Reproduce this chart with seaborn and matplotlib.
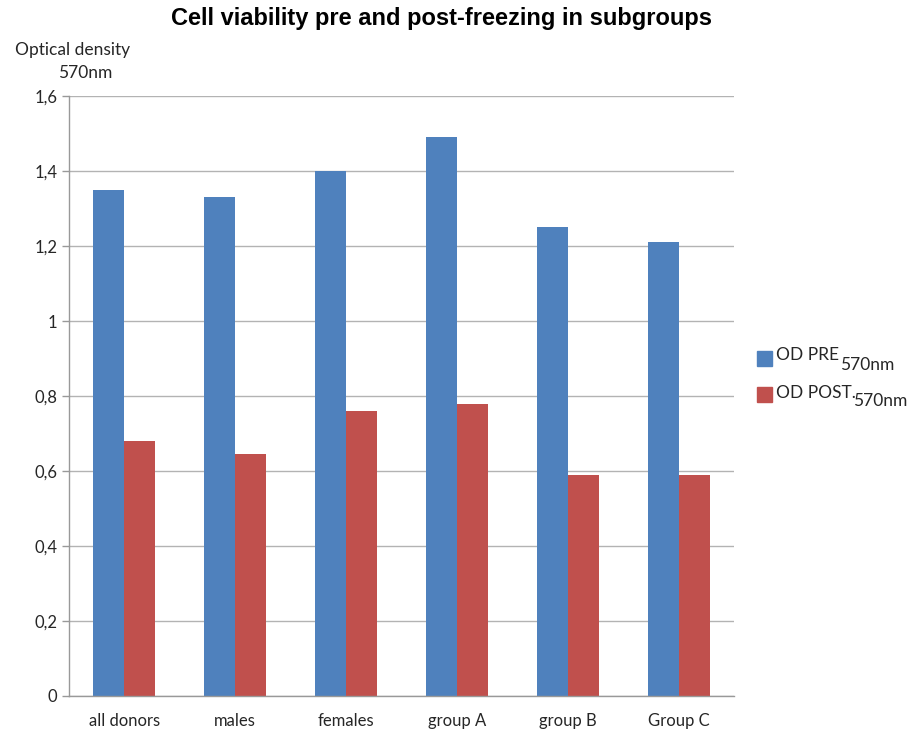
import numpy as np
import pandas as pd
import matplotlib
matplotlib.use("Agg")
import matplotlib.pyplot as plt
import seaborn as sns

groups = ["all donors", "males", "females", "group A", "group B", "Group C"]
od_pre = [1.35, 1.33, 1.40, 1.49, 1.25, 1.21]
od_post = [0.68, 0.645, 0.76, 0.78, 0.59, 0.59]
yticks = [0, 0.2, 0.4, 0.6, 0.8, 1.0, 1.2, 1.4, 1.6]
ytick_labels = ["0", "0,2", "0,4", "0,6", "0,8", "1", "1,2", "1,4", "1,6"]

df = pd.DataFrame({
    "group": groups * 2,
    "od": od_pre + od_post,
    "series": ["pre"] * len(groups) + ["post"] * len(groups),
})

sns.set_style("white")
plt.rcParams["font.family"] = ["Lato", "DejaVu Sans"]

fig = plt.figure(figsize=(9.17, 7.33), dpi=100)
ax = fig.add_axes([0.0752, 0.0505, 0.7252, 0.8185])

sns.barplot(data=df, x="group", y="od", hue="series", order=groups,
            hue_order=["pre", "post"], palette=["#4f81bd", "#c0504d"],
            width=0.56, gap=0, saturation=1, errorbar=None, ax=ax,
            legend=False, linewidth=0)

ax.set_xlim(-0.5, len(groups) - 0.5)
ax.set_ylim(0, 1.6)
ax.set_yticks(yticks)
ax.set_yticklabels(ytick_labels, fontsize=12)
ax.yaxis.grid(True, color="#b3b3b3", linewidth=1.0)
ax.set_axisbelow(True)
ax.set_xlabel("")
ax.set_ylabel("")
ax.tick_params(axis="x", which="major", length=0, labelsize=12, pad=12)
ax.set_xticks(np.arange(-0.5, len(groups)), minor=True)
ax.tick_params(axis="x", which="minor", length=8, color="#999999", width=1)
ax.tick_params(axis="y", length=5, color="#999999", width=1, left=True)
for s in ["top", "right"]:
    ax.spines[s].set_visible(False)
for s in ["left", "bottom"]:
    ax.spines[s].set_color("#999999")
    ax.spines[s].set_linewidth(1)

fig.text(0.481, 0.975, "Cell viability pre and post-freezing in subgroups",
         ha="center", va="center", fontsize=17, fontweight="bold",
         family="Liberation Sans", color="black")
fig.text(0.016, 0.932, "Optical density", fontsize=12.5, va="center")
fig.text(0.063, 0.900, "570nm", fontsize=12.5, va="center")

# legend drawn by hand so the 570nm part can sit lower
fig.patches.append(plt.Rectangle((757 / 917, 1 - 366 / 733), 15 / 917, 15 / 733,
                                 color="#4f81bd", transform=fig.transFigure))
fig.patches.append(plt.Rectangle((757 / 917, 1 - 402 / 733), 15 / 917, 15 / 733,
                                 color="#c0504d", transform=fig.transFigure))
fig.text(776 / 917, 1 - 355 / 733, "OD PRE", fontsize=12.5, va="center")
fig.text(840 / 917, 1 - 365 / 733, "570nm", fontsize=12.5, va="center")
fig.text(776 / 917, 1 - 393 / 733, "OD POST.", fontsize=12.5, va="center")
fig.text(853 / 917, 1 - 401 / 733, "570nm", fontsize=12.5, va="center")

fig.savefig("out.png", dpi=100)
